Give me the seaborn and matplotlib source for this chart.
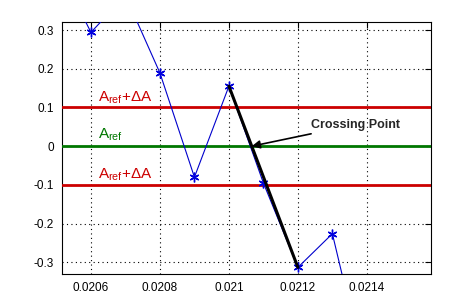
import matplotlib
matplotlib.use("Agg")
import matplotlib.pyplot as plt
import seaborn as sns
import pandas as pd
import numpy as np

# Data
t = [0.0205, 0.0206, 0.0207, 0.0208, 0.0209, 0.0210, 0.0211, 0.0212, 0.0213, 0.0214]
amp = [0.47, 0.294, 0.389, 0.189, -0.080, 0.155, -0.095, -0.313, -0.226, -0.60]
a_ref = 0.0
delta_a = 0.1
xticks = [0.0206, 0.0208, 0.0210, 0.0212, 0.0214]
xticklabels = ["0.0206", "0.0208", "0.021", "0.0212", "0.0214"]
yticks = [-0.3, -0.2, -0.1, 0.0, 0.1, 0.2, 0.3]
yticklabels = ["-0.3", "-0.2", "-0.1", "0", "0.1", "0.2", "0.3"]
seg_x = [0.0210, 0.0212]
seg_y = [0.155, -0.313]

sns.set_style("white")
plt.rcParams["font.family"] = ["Liberation Sans", "DejaVu Sans"]
plt.rcParams["mathtext.fontset"] = "custom"
plt.rcParams["mathtext.rm"] = "Liberation Sans"
plt.rcParams["mathtext.it"] = "Liberation Sans"

fig = plt.figure(figsize=(4.76, 3.08), dpi=100)
ax = fig.add_axes([62/476, 1 - 274/308, (431-62)/476, (274-22)/308])

df = pd.DataFrame({"t": t, "amp": amp})
sns.lineplot(data=df, x="t", y="amp", ax=ax, color="#0000cc", lw=0.8,
             marker=(6, 2, 0), markersize=7, markeredgecolor="#0000dd",
             markeredgewidth=1.0, sort=False, zorder=4)

ax.axhline(a_ref + delta_a, color="#cc0000", lw=2.0, zorder=3)
ax.axhline(a_ref - delta_a, color="#cc0000", lw=2.0, zorder=3)
ax.axhline(a_ref, color="#007700", lw=2.0, zorder=3)

ax.plot(seg_x, seg_y, color="black", lw=2.2, zorder=5)

# crossing point
xc = seg_x[0] + (a_ref - seg_y[0]) / (seg_y[1] - seg_y[0]) * (seg_x[1] - seg_x[0])
ax.annotate("Crossing Point", xy=(xc, a_ref), xytext=(0.021238, 0.056),
            fontsize=9, fontweight="bold", va="center", ha="left",
            arrowprops=dict(arrowstyle="-|>", color="black", lw=1.2,
                            mutation_scale=12, shrinkA=0, shrinkB=0), zorder=6)

ax.text(0.02062, 0.104, r"$\mathrm{A_{ref}}$+ΔA", color="#cc0000", fontsize=11, va="bottom")
ax.text(0.02062, 0.007, r"$\mathrm{A_{ref}}$", color="#007700", fontsize=11, va="bottom")
ax.text(0.02062, -0.096, r"$\mathrm{A_{ref}}$+ΔA", color="#cc0000", fontsize=11, va="bottom")

ax.set_xlim(0.020516, 0.021586)
ax.set_ylim(-0.33, 0.3207)
ax.set_xticks(xticks)
ax.set_xticklabels(xticklabels)
ax.set_yticks(yticks)
ax.set_yticklabels(yticklabels)
ax.set_xlabel("")
ax.set_ylabel("")
ax.grid(True, color="black", linestyle=(0, (1, 3)), lw=0.8)
ax.tick_params(direction="in", length=4, width=0.8, top=True, right=True,
               labelsize=8.5, pad=6, colors="black")
for s in ax.spines.values():
    s.set_color("black")
    s.set_linewidth(0.8)

fig.savefig("out.png", dpi=100)
